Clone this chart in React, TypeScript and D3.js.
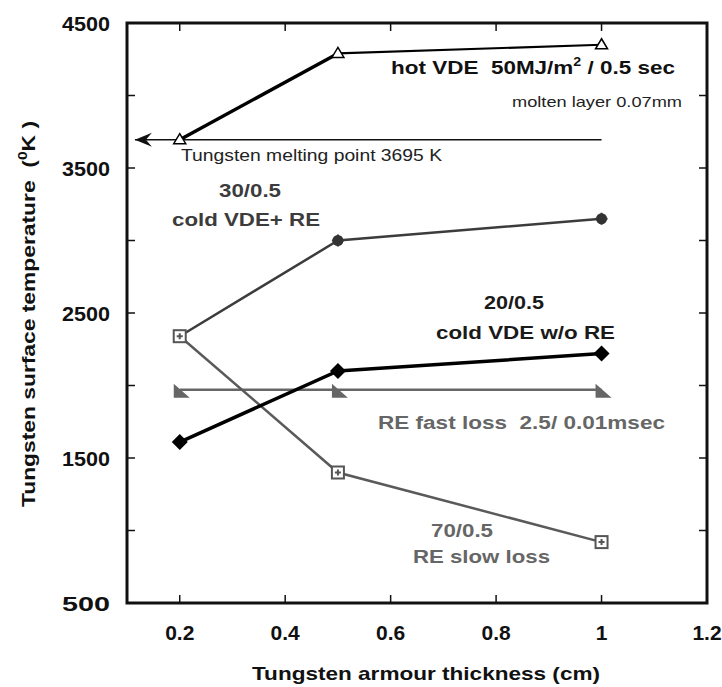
import React from "react";
import * as d3 from "d3";

// Armour thickness (cm) at which each case was computed
const thickness = [0.2, 0.5, 1.0];

// Surface temperature (K) per load case
const hotVDE = [3695, 4290, 4350];
const coldVDEwithRE = [2340, 3000, 3150];
const coldVDEnoRE = [1610, 2100, 2220];
const reFastLoss = [1970, 1970, 1970];
const reSlowLoss = [2340, 1400, 920];

const meltingPoint = 3695;
const meltingLineX = [0.115, 1.0];

const xTickValues = [0.2, 0.4, 0.6, 0.8, 1.0, 1.2];
const xTickLabels = ["0.2", "0.4", "0.6", "0.8", "1", "1.2"];
const yTickValues = [500, 1000, 1500, 2000, 2500, 3000, 3500, 4000, 4500];
const yLabelValues = [500, 1500, 2500, 3500, 4500];

const W = 722;
const H = 687;
const FONT = "'Liberation Sans', Arial, sans-serif";

export default function App() {
  const x = d3.scaleLinear().domain([0.1, 1.2]).range([127, 707]);
  const y = d3.scaleLinear().domain([500, 4500]).range([603, 23]);
  const line = d3
    .line<[number, number]>()
    .x((d) => x(d[0]))
    .y((d) => y(d[1]));
  const pts = (vals: number[]) =>
    thickness.map((t, i) => [t, vals[i]] as [number, number]);

  const [x0, x1] = x.range();
  const [yb, yt] = y.range();
  const tick = 8;

  const triangle = (cx: number, cy: number) =>
    `M${cx},${cy - 6} L${cx + 6},${cy + 4} L${cx - 6},${cy + 4} Z`;
  const diamond = (cx: number, cy: number) =>
    `M${cx},${cy - 8} L${cx + 8},${cy} L${cx},${cy + 8} L${cx - 8},${cy} Z`;
  const wedge = (cx: number, cy: number) =>
    `M${cx - 6},${cy - 6} L${cx - 6},${cy + 8} L${cx + 10},${cy + 8} Z`;

  const mY = y(meltingPoint);
  const ax = x(meltingLineX[0]);
  const hot = pts(hotVDE);

  const stretch = (len: number) => ({
    textLength: len,
    lengthAdjust: "spacingAndGlyphs" as const,
  });

  return (
    <svg
      width={W}
      height={H}
      style={{ position: "absolute", left: 0, top: 0, background: "#fff" }}
      fontFamily={FONT}
    >
      <rect width={W} height={H} fill="#fff" />

      {/* frame */}
      <rect
        x={x0}
        y={yt}
        width={x1 - x0}
        height={yb - yt}
        fill="none"
        stroke="#111"
        strokeWidth={3}
      />

      {/* inward ticks on all four sides */}
      {yTickValues.map((v) => (
        <g key={"yt" + v} stroke="#111" strokeWidth={1.5}>
          <line x1={x0} x2={x0 + tick} y1={y(v)} y2={y(v)} />
          <line x1={x1} x2={x1 - tick} y1={y(v)} y2={y(v)} />
        </g>
      ))}
      {xTickValues.slice(0, 5).map((v) => (
        <g key={"xt" + v} stroke="#111" strokeWidth={1.5}>
          <line x1={x(v)} x2={x(v)} y1={yb} y2={yb - tick} />
          <line x1={x(v)} x2={x(v)} y1={yt} y2={yt + tick} />
        </g>
      ))}

      {/* tick labels */}
      {yLabelValues.map((v) => (
        <text
          key={"yl" + v}
          x={110}
          y={y(v)}
          dy="0.36em"
          textAnchor="end"
          fontSize={21}
          fontWeight="bold"
          fill="#111"
          {...stretch(48)}
        >
          {v}
        </text>
      ))}
      {xTickValues.map((v, i) => (
        <text
          key={"xl" + v}
          x={x(v)}
          y={640}
          textAnchor="middle"
          fontSize={21}
          fontWeight="bold"
          fill="#111"
        >
          {xTickLabels[i]}
        </text>
      ))}

      {/* axis titles */}
      <text
        x={252}
        y={680}
        fontSize={19}
        fontWeight="bold"
        fill="#111"
        {...stretch(348)}
      >
        Tungsten armour thickness (cm)
      </text>
      <text
        transform="translate(35,507) rotate(-90)"
        fontSize={19}
        fontWeight="bold"
        fill="#111"
        {...stretch(386)}
      >
        Tungsten surface temperature{"\u00a0\u00a0"}(
        <tspan fontSize={13} dy={-8}>
          0
        </tspan>
        <tspan dy={8}>K )</tspan>
      </text>

      {/* melting point reference arrow */}
      <line
        x1={ax}
        x2={x(meltingLineX[1])}
        y1={mY}
        y2={mY}
        stroke="#111"
        strokeWidth={1.3}
      />
      <path
        d={`M${ax},${mY} L${ax + 17},${mY - 7} L${ax + 11},${mY} L${ax + 17},${mY + 7} Z`}
        fill="#111"
      />

      {/* RE fast loss */}
      <path
        d={line(pts(reFastLoss)) || ""}
        fill="none"
        stroke="#666"
        strokeWidth={2.5}
      />
      {pts(reFastLoss).map(([t, v]) => (
        <path key={"f" + t} d={wedge(x(t), y(v))} fill="#666" />
      ))}

      {/* 70/0.5 RE slow loss */}
      <path
        d={line(pts(reSlowLoss)) || ""}
        fill="none"
        stroke="#5a5a5a"
        strokeWidth={2.5}
      />

      {/* 30/0.5 cold VDE + RE */}
      <path
        d={line(pts(coldVDEwithRE)) || ""}
        fill="none"
        stroke="#3c3c3c"
        strokeWidth={2.5}
      />
      {pts(coldVDEwithRE).map(([t, v]) => (
        <g key={"c" + t}>
          <circle cx={x(t)} cy={y(v)} r={5.5} fill="#333" />
          <path
            d={`M${x(t) - 6},${y(v)} h12 M${x(t)},${y(v) - 6} v12`}
            stroke="#333"
            strokeWidth={2}
          />
        </g>
      ))}

      {/* slow loss markers drawn over the 0.2 cm overlap */}
      {pts(reSlowLoss).map(([t, v]) => (
        <g key={"s" + t}>
          <rect
            x={x(t) - 6}
            y={y(v) - 6}
            width={12}
            height={12}
            fill="#fff"
            stroke="#555"
            strokeWidth={2}
          />
          <path
            d={`M${x(t) - 3},${y(v)} h6 M${x(t)},${y(v) - 3} v6`}
            stroke="#555"
            strokeWidth={2}
          />
        </g>
      ))}

      {/* 20/0.5 cold VDE without RE */}
      <path
        d={line(pts(coldVDEnoRE)) || ""}
        fill="none"
        stroke="#000"
        strokeWidth={3.5}
      />
      {pts(coldVDEnoRE).map(([t, v]) => (
        <path key={"d" + t} d={diamond(x(t), y(v))} fill="#000" />
      ))}

      {/* hot VDE: heavier first segment, lighter plateau */}
      <path
        d={line(hot.slice(0, 2)) || ""}
        fill="none"
        stroke="#000"
        strokeWidth={3.5}
      />
      <path
        d={line(hot.slice(1)) || ""}
        fill="none"
        stroke="#000"
        strokeWidth={2.2}
      />
      {hot.map(([t, v]) => (
        <path
          key={"h" + t}
          d={triangle(x(t), y(v))}
          fill="#fff"
          stroke="#000"
          strokeWidth={1.5}
        />
      ))}

      {/* annotations */}
      <text x={391} y={74} fontSize={19} fontWeight="bold" fill="#111" {...stretch(284)}>
        hot VDE{"\u00a0\u00a0"}50MJ/m
        <tspan fontSize={12} dy={-8}>
          2
        </tspan>
        <tspan dy={8}> / 0.5 sec</tspan>
      </text>
      <text x={512} y={107} fontSize={15} fill="#222" {...stretch(170)}>
        molten layer 0.07mm
      </text>
      <text x={181} y={161} fontSize={16} fill="#222" {...stretch(261)}>
        Tungsten melting point 3695 K
      </text>

      <g fontSize={18} fontWeight="bold" fill="#3c3c3c">
        <text x={219} y={197} {...stretch(62)}>30/0.5</text>
        <text x={172} y={226} {...stretch(148)}>cold VDE+ RE</text>
      </g>
      <g fontSize={18} fontWeight="bold" fill="#1a1a1a">
        <text x={484} y={309} {...stretch(60)}>20/0.5</text>
        <text x={436} y={339} {...stretch(179)}>cold VDE w/o RE</text>
      </g>
      <text x={378} y={429} fontSize={18} fontWeight="bold" fill="#666" {...stretch(287)}>
        RE fast loss{"\u00a0\u00a0"}2.5/ 0.01msec
      </text>
      <g fontSize={18} fontWeight="bold" fill="#666">
        <text x={431} y={537} {...stretch(62)}>70/0.5</text>
        <text x={413} y={563} {...stretch(137)}>RE slow loss</text>
      </g>
    </svg>
  );
}
